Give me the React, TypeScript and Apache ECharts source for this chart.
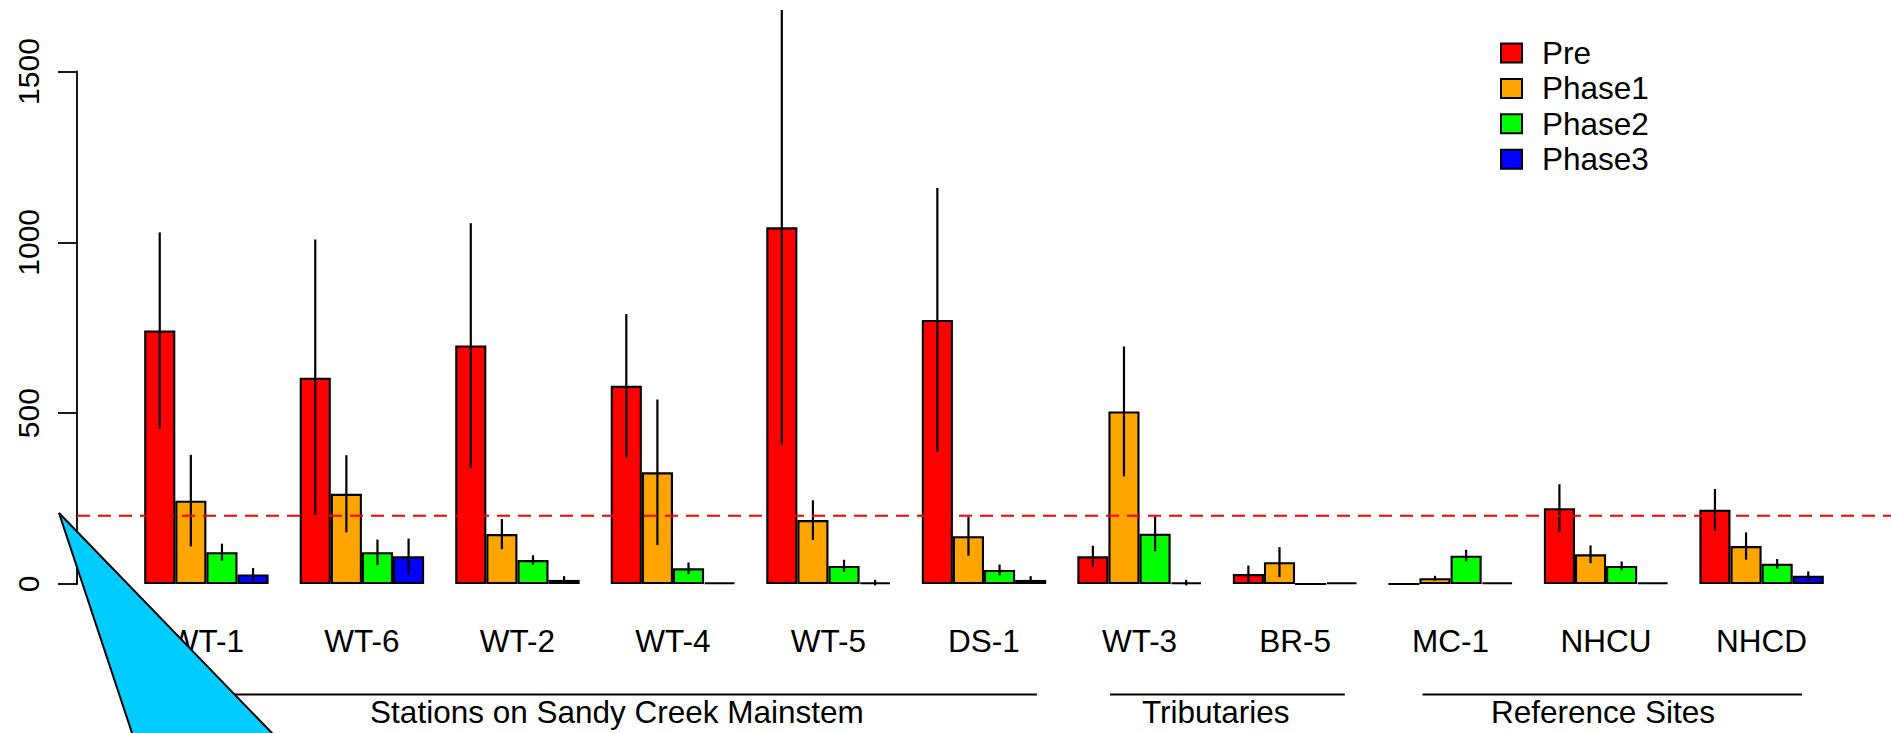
import React, { useEffect, useRef } from "react";
import * as echarts from "echarts";

// Sampling stations, grouped beside by phase
const categories = ["WT-1", "WT-6", "WT-2", "WT-4", "WT-5", "DS-1", "WT-3", "BR-5", "MC-1", "NHCU", "NHCD"];
const seriesNames = ["Pre", "Phase1", "Phase2", "Phase3"];
const seriesColors = ["#FF0000", "#FFA500", "#00FF00", "#0000FF"];

// Means and standard errors per phase
const pre = [742, 604, 698, 580, 1044, 773, 81, 29, 0, 222, 217];
const preSE = [287, 404, 358, 210, 636, 386, 31, 25, 0, 70, 61];
const phase1 = [244, 264, 146, 327, 187, 140, 505, 64, 17, 87, 111];
const phase1SE = [134, 113, 44, 213, 58, 57, 190, 44, 7, 26, 40];
const phase2 = [93, 93, 70, 46, 53, 41, 147, 0, 83, 53, 59];
const phase2SE = [25, 37, 14, 17, 18, 16, 51, 0, 17, 13, 14];
const phase3 = [28, 81, 12, 4, 4, 12, 4, 4, 4, 4, 24];
const phase3SE = [19, 52, 11, 0, 8, 11, 8, 0, 0, 0, 13];

const yTicks = [0, 500, 1000, 1500];
const threshold = 200;

// Station groupings shown under the axis (positions in bar units)
const groupNames = ["Stations on Sandy Creek Mainstem", "Tributaries", "Reference Sites"];
const groupFrom = [3.7, 32.05, 42.1];
const groupTo = [29.7, 39.6, 54.3];
const groupLabelAt = [16.2, 35.45, 47.9];

const means = [pre, phase1, phase2, phase3];
const errors = [preSE, phase1SE, phase2SE, phase3SE];

const FONT = "'Liberation Sans', Arial, sans-serif";
const FS = 31.5;
const W = 1891;
const H = 733;
const GRID_LEFT = 77;
const GRID_TOP = 71.5;
const GRID_BOTTOM = 149;
const X_MIN = -1.16;
const X_MAX = 57.16;

export default function App() {
  const ref = useRef<HTMLDivElement>(null);

  useEffect(() => {
    document.body.style.margin = "0";
    const el = ref.current;
    if (!el) return;
    const chart = echarts.init(el, null, { renderer: "svg" });
    const unitPx = (W - GRID_LEFT) / (X_MAX - X_MIN);

    const barSeries = means.map((vals, k) => ({
      name: seriesNames[k],
      type: "bar",
      data: vals.map((v, i) => [5 * i + k + 1.5, v]),
      barWidth: unitPx,
      barGap: "-100%",
      itemStyle: { color: seriesColors[k], borderColor: "#000", borderWidth: 2.1 },
      z: 2,
    }));

    const errData: number[][] = [];
    means.forEach((vals, k) => {
      vals.forEach((v, i) => {
        const se = errors[k][i];
        if (se > 0) errData.push([5 * i + k + 1.5, v - se, v + se]);
      });
    });

    const option: any = {
      animation: false,
      backgroundColor: "#fff",
      textStyle: { fontFamily: FONT },
      grid: { left: GRID_LEFT, right: 0, top: GRID_TOP, bottom: GRID_BOTTOM, containLabel: false },
      legend: {
        data: seriesNames,
        orient: "vertical",
        left: 1495,
        top: 32,
        icon: "rect",
        itemWidth: 21,
        itemHeight: 19,
        itemGap: 3.4,
        textStyle: { fontSize: FS, fontFamily: FONT, color: "#000", padding: [0, 0, 0, 15], lineHeight: 30 },
      },
      xAxis: {
        type: "value",
        min: X_MIN,
        max: X_MAX,
        axisLine: { show: false },
        axisTick: { show: false },
        splitLine: { show: false },
        axisLabel: {
          customValues: categories.map((_, i) => 5 * i + 3),
          formatter: (v: number) => categories[Math.round((v - 3) / 5)] ?? "",
          fontSize: FS,
          fontFamily: FONT,
          color: "#000",
          margin: 41,
        },
      },
      yAxis: {
        type: "value",
        min: 0,
        max: 1500,
        interval: 500,
        axisLine: { show: true, onZero: false, lineStyle: { color: "#000", width: 1.8 } },
        axisTick: { show: true, length: 19, lineStyle: { color: "#000", width: 1.8 } },
        splitLine: { show: false },
        axisLabel: {
          customValues: yTicks,
          formatter: (v: number) => String(v),
          rotate: 90,
          fontSize: 30,
          fontFamily: FONT,
          color: "#000",
          margin: 34,
        },
      },
      series: [
        ...barSeries,
        {
          name: "SE",
          type: "custom",
          data: errData,
          encode: { x: 0, y: [1, 2] },
          clip: false,
          z: 3,
          renderItem: (_p: any, api: any) => {
            const lo = api.coord([api.value(0), api.value(1)]);
            const hi = api.coord([api.value(0), api.value(2)]);
            return {
              type: "line",
              shape: { x1: lo[0], y1: lo[1], x2: hi[0], y2: hi[1] },
              style: { stroke: "#000", lineWidth: 2.2 },
            };
          },
        },
        {
          name: "threshold",
          type: "line",
          data: [[X_MIN, threshold], [X_MAX, threshold]],
          symbol: "none",
          lineStyle: { color: "#FF0000", width: 2, type: [13, 8] },
          z: 4,
          silent: true,
        },
        {
          name: "groups",
          type: "custom",
          data: groupNames.map((_, i) => [groupFrom[i], groupTo[i], groupLabelAt[i]]),
          encode: { x: [0, 1, 2] },
          clip: false,
          silent: true,
          renderItem: (p: any, api: any) => {
            const a = api.coord([api.value(0), 0]);
            const b = api.coord([api.value(1), 0]);
            const t = api.coord([api.value(2), 0]);
            return {
              type: "group",
              children: [
                {
                  type: "line",
                  shape: { x1: a[0], y1: a[1] + 110.5, x2: b[0], y2: b[1] + 110.5 },
                  style: { stroke: "#000", lineWidth: 2 },
                },
                {
                  type: "text",
                  x: t[0],
                  y: t[1] + 128,
                  style: {
                    text: groupNames[p.dataIndex],
                    fontSize: FS,
                    fontFamily: FONT,
                    fill: "#000",
                    align: "center",
                    verticalAlign: "middle",
                  },
                },
              ],
            };
          },
        },
      ],
      graphic: [
        {
          type: "polygon",
          z: 100,
          shape: { points: [[59, 513], [141, 760], [298, 760]] },
          style: { fill: "#00CCFF", stroke: "#000", lineWidth: 2 },
        },
      ],
    };

    chart.setOption(option);
    return () => chart.dispose();
  }, []);

  return <div ref={ref} style={{ width: W, height: H }} />;
}
